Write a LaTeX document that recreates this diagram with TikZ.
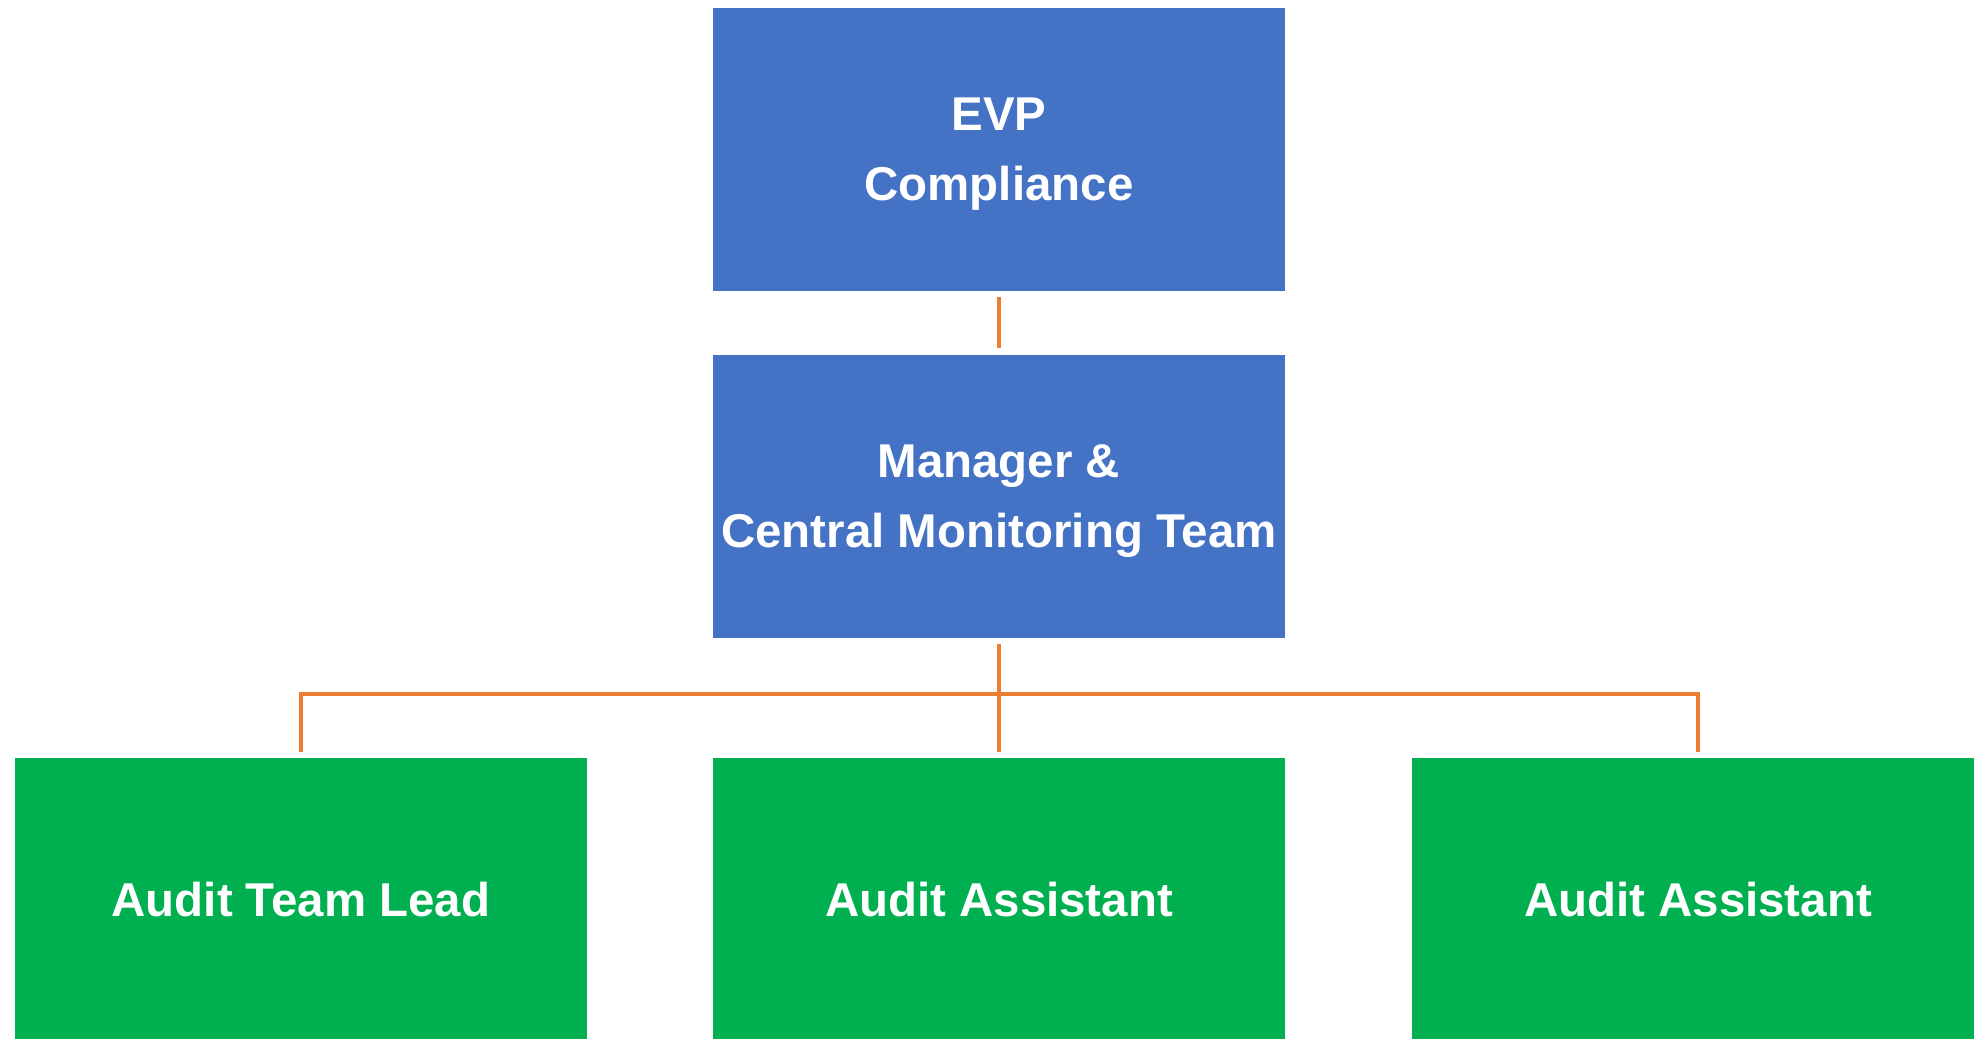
\documentclass[tikz,border=0pt]{standalone}
\usepackage{fontspec}
\setmainfont{Liberation Sans}
\usepackage{tikz}
\usetikzlibrary{positioning}
\usetikzlibrary{calc}
\definecolor{myblue}{RGB}{68,114,196}
\definecolor{mygreen}{RGB}{0,176,80}
\definecolor{myorange}{RGB}{237,125,49}

\begin{document}
\begin{tikzpicture}
	\useasboundingbox (0,0) rectangle (19.74,-10.38);
	\begin{scope}[every node/.style={fill=myblue,text=white,inner sep=0pt,
	              minimum width=5.72cm, minimum height=2.83cm, align=center,
	              font=\fontsize{13.5pt}{20pt}\selectfont\bfseries}]
	    \node (evp) [text depth=0pt] at (9.99,-1.495) {EVP\\Compliance};
	    \node (mgr) [text depth=0pt] at (9.99,-4.96) {Manager \&\\Central Monitoring Team};
	    \node (lead) [fill=mygreen] at (3.01,-8.995) {Audit Team Lead};
	    \node (asstA) [fill=mygreen] at (9.99,-8.995) {Audit Assistant};
	    \node (asstB) [fill=mygreen] at (16.98,-8.995) {Audit Assistant};
	\end{scope}

	\coordinate (bus) at (9.99,-6.94);

	\begin{scope}[every path/.style={draw=myorange,line width=1.2pt,
	              shorten <=0.055cm, shorten >=0.055cm}]
    	\path (evp) -- (mgr);
    	\path (mgr) -- (asstA);
    	\path (lead.north) |- (bus) -| (asstB.north);
	\end{scope}
\end{tikzpicture}
\end{document}
